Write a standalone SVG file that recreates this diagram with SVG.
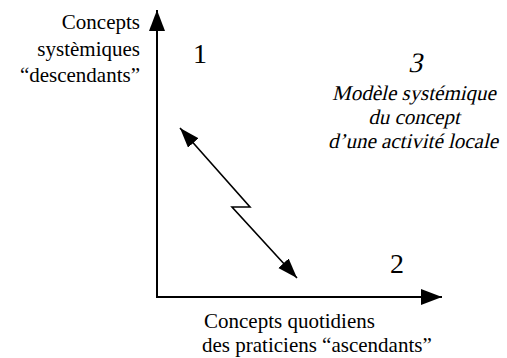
<svg xmlns="http://www.w3.org/2000/svg" width="507" height="358" viewBox="0 0 507 358">
<style>
.t{font-family:"Liberation Serif","Times New Roman",serif;font-size:21px;fill:#000}
.num{font-size:28px}
.ln{fill:none;stroke:#000}
</style>
<defs>
<marker id="ah" markerUnits="userSpaceOnUse" markerWidth="24" markerHeight="18" refX="21" refY="8" orient="auto-start-reverse">
<path d="M0,0 L21,8 L0,16 z" fill="#000"/>
</marker>
<marker id="ah2" markerUnits="userSpaceOnUse" markerWidth="24" markerHeight="18" refX="20" refY="7" orient="auto-start-reverse">
<path d="M0,0 L20,7 L0,14 z" fill="#000"/>
</marker>
</defs>
<rect width="507" height="358" fill="#fff"/>
<g id="connectors">
<path id="axis-y" class="ln" stroke-width="2" d="M157,297 L157,10" marker-end="url(#ah)"/>
<path id="axis-x" class="ln" stroke-width="2" d="M156,297 L442,297" marker-end="url(#ah)"/>
<polyline id="zigzag" class="ln" stroke-width="1.6" points="180,128 250,207 232,207 297,278" marker-start="url(#ah2)" marker-end="url(#ah2)"/>
</g>
<g id="label-y">
<text class="t" text-anchor="end" x="140" y="29">Concepts</text>
<text class="t" text-anchor="end" x="140" y="56">systèmiques</text>
<text class="t" text-anchor="end" x="140" y="82">“descendants”</text>
</g>
<g id="q1"><text class="t num" text-anchor="middle" x="200" y="63">1</text></g>
<g id="q2"><text class="t num" text-anchor="middle" x="397" y="273">2</text></g>
<g id="q3">
<text class="t num" text-anchor="middle" transform="translate(415,72) skewX(-13)">3</text>
<text class="t" text-anchor="middle" transform="translate(414,100) skewX(-13)">Modèle systémique</text>
<text class="t" text-anchor="middle" transform="translate(414,124) skewX(-13)">du concept</text>
<text class="t" text-anchor="middle" transform="translate(413,148) skewX(-13)">d’une activité locale</text>
</g>
<g id="label-x">
<text class="t" x="204" y="328">Concepts quotidiens</text>
<text class="t" x="202" y="352">des praticiens “ascendants”</text>
</g>
</svg>
